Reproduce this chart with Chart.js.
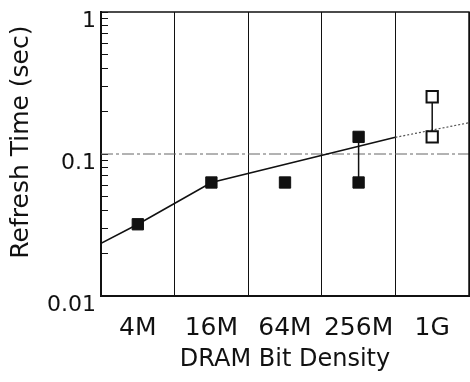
<!DOCTYPE html>
<html>
<head>
<meta charset="utf-8">
<script src="https://cdn.jsdelivr.net/npm/chart.js@4/dist/chart.umd.min.js"></script>
<style>
  html, body { margin: 0; padding: 0; background: #fff; }
  #wrap { width: 470px; height: 382px; }
</style>
</head>
<body>
<div id="wrap"><canvas id="myChart" width="470" height="382"></canvas></div>
<script>
const categories = ['4M', '16M', '64M', '256M', '1G'];
const measuredLow = [0.032, 0.063, 0.063, 0.063, null];
const measuredHigh = [null, null, null, 0.132, null];
const projectedLow = [null, null, null, null, 0.132];
const projectedHigh = [null, null, null, null, 0.253];
const trendPos = [-0.5, 0, 1, 3.5, 4.5];
const trendValues = [0.0235, 0.032, 0.063, 0.131, 0.166];
const refLevel = 0.1;
const yMajorTicks = [0.01, 0.1, 1];

const ink = '#111';
const font = 'DejaVu Sans';

// vertical connectors between the low and high marks of one density
const rangeLine = (low, high) => {
    const pts = [];
    categories.forEach((c, i) => {
        if (low[i] != null && high[i] != null) {
            pts.push({x: i, y: low[i]}, {x: i, y: high[i]});
        }
    });
    return pts;
};

const frame = {
    id: 'frame',
    afterDraw(chart) {
        const {ctx, chartArea: a} = chart;
        ctx.save();
        ctx.strokeStyle = ink;
        ctx.lineWidth = 1.5;
        ctx.beginPath();
        ctx.moveTo(a.left, a.top);
        ctx.lineTo(a.right, a.top);
        ctx.lineTo(a.right, a.bottom);
        ctx.stroke();
        ctx.restore();
    }
};

const ctx = document.getElementById('myChart').getContext('2d');
new Chart(ctx, {
    type: 'line',
    data: {
        labels: categories,
        datasets: [{
            data: measuredLow,
            showLine: false,
            pointStyle: 'rect',
            pointRadius: 8,
            pointBackgroundColor: ink,
            pointBorderColor: ink,
            pointBorderWidth: 1
        }, {
            data: measuredHigh,
            showLine: false,
            pointStyle: 'rect',
            pointRadius: 8,
            pointBackgroundColor: ink,
            pointBorderColor: ink,
            pointBorderWidth: 1
        }, {
            data: projectedLow,
            showLine: false,
            pointStyle: 'rect',
            pointRadius: 8,
            pointBackgroundColor: '#fff',
            pointBorderColor: ink,
            pointBorderWidth: 2
        }, {
            data: projectedHigh,
            showLine: false,
            pointStyle: 'rect',
            pointRadius: 8,
            pointBackgroundColor: '#fff',
            pointBorderColor: ink,
            pointBorderWidth: 2
        }, {
            xAxisID: 'x2',
            data: rangeLine(measuredLow, measuredHigh),
            borderColor: ink,
            borderWidth: 1.5,
            pointRadius: 0
        }, {
            xAxisID: 'x2',
            data: rangeLine(projectedLow, projectedHigh),
            borderColor: ink,
            borderWidth: 1.5,
            pointRadius: 0
        }, {
            xAxisID: 'x2',
            data: trendPos.map((x, i) => ({x: x, y: trendValues[i]})),
            borderColor: ink,
            borderWidth: 1.6,
            pointRadius: 0,
            segment: {
                borderDash: c => c.p0.parsed.x >= 3.5 ? [2, 2] : undefined,
                borderWidth: c => c.p0.parsed.x >= 3.5 ? 1.2 : undefined,
                borderColor: c => c.p0.parsed.x >= 3.5 ? '#555' : undefined
            }
        }, {
            xAxisID: 'x2',
            data: [{x: -0.5, y: refLevel}, {x: 4.5, y: refLevel}],
            borderColor: '#666',
            borderWidth: 1,
            borderDash: [12, 3, 3, 3],
            pointRadius: 0
        }]
    },
    options: {
        responsive: false,
        animation: false,
        layout: {autoPadding: false, padding: {top: 12, right: 1, left: 0, bottom: 0}},
        plugins: {legend: {display: false}, tooltip: {enabled: false}},
        scales: {
            x: {
                type: 'category',
                offset: true,
                grid: {offset: true, color: ink, lineWidth: 1, drawTicks: false},
                border: {color: ink, width: 2},
                ticks: {color: ink, padding: 17, font: {family: font, size: 25}, maxRotation: 0, autoSkip: false},
                title: {display: true, text: 'DRAM Bit Density', color: ink,
                    font: {family: font, size: 24}, padding: {top: 0, bottom: 8}},
                afterFit: s => { s.height = 86; s.paddingLeft = 0; s.paddingRight = 0; }
            },
            x2: {
                type: 'linear',
                display: false,
                min: -0.5,
                max: 4.5
            },
            y: {
                type: 'logarithmic',
                min: 0.01,
                max: 1,
                grid: {drawOnChartArea: false, drawTicks: true, tickLength: -7, tickColor: ink, tickWidth: 1},
                border: {color: ink, width: 2},
                afterBuildTicks: s => {
                    const t = [];
                    for (let e = -2; e < 0; e++) {
                        for (let m = 1; m < 10; m++) t.push({value: parseFloat((m * Math.pow(10, e)).toPrecision(3))});
                    }
                    t.push({value: 1});
                    s.ticks = t;
                },
                ticks: {
                    color: ink,
                    padding: 12,
                    autoSkip: false,
                    font: {family: font, size: 22, lineHeight: '18px'},
                    callback: v => yMajorTicks.includes(v) ? ['', String(v)] : ''
                },
                title: {display: true, text: '   Refresh Time (sec)', color: ink,
                    font: {family: font, size: 25}, padding: {top: 6, bottom: 0}},
                afterFit: s => { s.width = 101; s.paddingTop = 0; s.paddingBottom = 0; }
            }
        }
    },
    plugins: [frame]
});
</script>
</body>
</html>
